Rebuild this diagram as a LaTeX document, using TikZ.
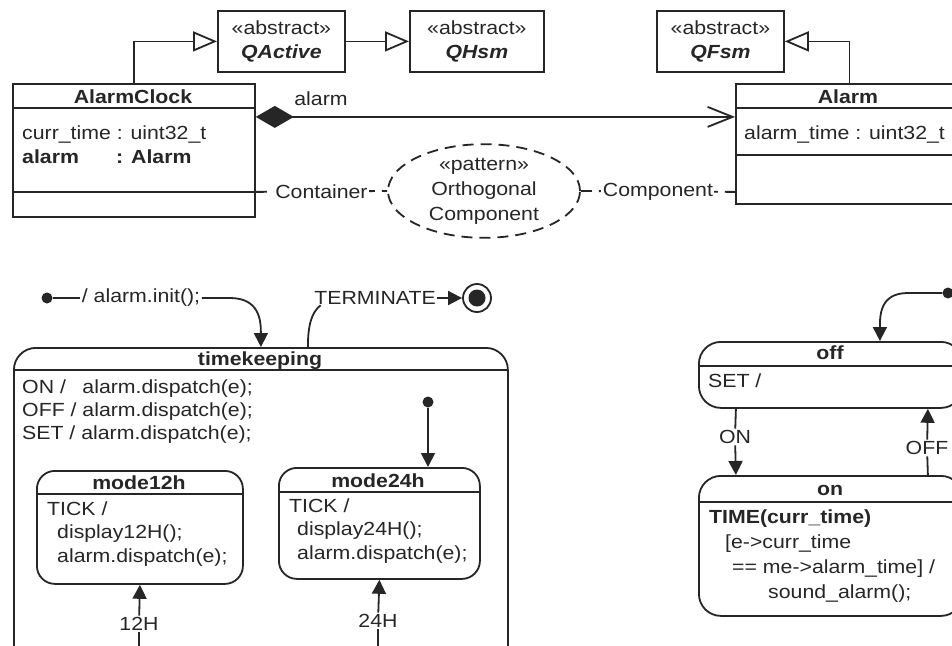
\documentclass[tikz,border=0pt]{standalone}
\usepackage{fontspec}
\setmainfont[FakeStretch=1.12]{Liberation Sans}
\usetikzlibrary{arrows.meta,shapes.geometric}
\newcommand\dfont{\fontsize{19}{24}\selectfont}
\begin{document}
\begin{tikzpicture}[x=1pt,y=-1pt,
  ln/.style={line width=1.8pt, draw=black!85},
  box/.style={ln, draw, anchor=north west, inner sep=0pt},
  sbox/.style={box, rounded corners=20pt},
  txt/.style={anchor=base west, inner sep=0pt, font=\dfont, text=black!85},
  ctxt/.style={anchor=base, inner sep=0pt, font=\dfont, text=black!85},
  lbl/.style={fill=white, inner sep=1.5pt, font=\dfont, text=black!85},
  gen/.style={ln, -{Triangle[open, length=24pt, width=20pt]}},
  trans/.style={ln, -{Triangle[length=14pt, width=14pt]}},
  dotn/.style={circle, fill=black!85, inner sep=0pt, minimum size=11pt},
  dsh/.style={dash pattern=on 11pt off 7pt}]
\useasboundingbox (0,0) rectangle (952,645);
\clip (0,0) rectangle (952,645);
\fill[white] (0,0) rectangle (952,645);

% ---- stereotype boxes
\node[box, minimum width=127pt, minimum height=61pt, align=center, font=\dfont, text=black!85] (qa) at (217,10) {«abstract»\\\textbf{\textit{QActive}}};
\node[box, minimum width=134pt, minimum height=61pt, align=center, font=\dfont, text=black!85] (qh) at (409,10) {«abstract»\\\textbf{\textit{QHsm}}};
\node[box, minimum width=127pt, minimum height=61pt, align=center, font=\dfont, text=black!85] (qf) at (656,10) {«abstract»\\\textbf{\textit{QFsm}}};

% ---- AlarmClock class
\node[box, minimum width=242pt, minimum height=133pt] (ac) at (12,83) {};
\draw[ln] (12,108) -- (254,108);
\draw[ln] (12,192) -- (254,192);
\node[ctxt, font=\dfont\bfseries] (acn) at (133,103) {AlarmClock};
\node[txt] (ac1) at (22,139) {curr\_time : uint32\_t};
\node[txt, font=\dfont\bfseries] (ac2) at (22,163) {\makebox[94pt][l]{alarm}: Alarm};

% ---- Alarm class
\node[box, minimum width=227pt, minimum height=120pt] (al) at (735,83) {};
\draw[ln] (735,108) -- (962,108);
\draw[ln] (735,155) -- (962,155);
\node[ctxt, font=\dfont\bfseries] (aln) at (848,103) {Alarm};
\node[txt] (al1) at (744,139) {alarm\_time : uint32\_t};

% ---- generalizations
\draw[gen] (ac.north) |- (qa.west);
\draw[gen] (qa.east) -- (qh.west);
\draw[gen] (al.north) |- (qf.east);

% ---- composition
\draw[ln, {Diamond[length=38pt,width=22pt]}-{Straight Barb[length=25pt,width=20pt]}]
  ([yshift=33.5pt]ac.east) -- ([yshift=27pt]al.west);
\node[ctxt] (alm) at (321,105) {alarm};

% ---- pattern
\node[ellipse, ln, draw, dsh, minimum width=192pt, minimum height=90pt, inner sep=0pt,
      align=center, font=\fontsize{19}{25}\selectfont, text=black!85] (pat) at (484,191)
      {«pattern»\\Orthogonal\\Component};
\draw[ln, dsh] ([yshift=-41.5pt]ac.east) -- node[lbl] (cont) {Container} (pat.west);
\draw[ln, dsh] (pat.east) -- node[lbl] (comp) {Component} ([yshift=-48pt]al.west);

% ---- timekeeping state machine
\node[sbox, rounded corners=22pt, minimum width=494pt, minimum height=353pt] (tk) at (13,347) {};
\draw[ln] (13,370) -- (507,370);
\node[ctxt, font=\dfont\bfseries] (tkn) at (260,365) {timekeeping};
\node[txt] (tk1) at (22,393) {\rlap{ON /}\hphantom{OFF /} alarm.dispatch(e);};
\node[txt] (tk2) at (22,416) {OFF / alarm.dispatch(e);};
\node[txt] (tk3) at (22,439) {SET / alarm.dispatch(e);};

\node[dotn] (i1) at (47,298) {};
\node[lbl] (ilbl) at (141,298) {/ alarm.init();};
\draw[ln] (i1) -- (ilbl);
\draw[trans] (ilbl.east) -- ++(28,0) .. controls +(30,0) and +(0,-26) .. (tk.north);

\node[lbl] (term) at (375,298) {TERMINATE};
\node[circle, ln, draw, minimum size=28pt, inner sep=0pt] (fin) at (477,298) {};
\fill[black!85] (fin.center) circle (8.5pt);
\draw[ln] ([xshift=47pt]tk.north) .. controls +(0,-22) and +(-9,7) .. ([xshift=8pt,yshift=1pt]term.south west);
\draw[trans] (term.east) -- (fin.west);

% mode12h
\node[sbox, rounded corners=18pt, minimum width=206pt, minimum height=113pt] (m12) at (36,470) {};
\draw[ln] (36,494) -- (242,494);
\node[ctxt, font=\dfont\bfseries] (m12n) at (139,489) {mode12h};
\node[txt] (m121) at (47,515) {TICK /};
\node[txt] (m122) at (57,538.5) {display12H();};
\node[txt] (m123) at (57,562) {alarm.dispatch(e);};

% mode24h
\node[sbox, rounded corners=18pt, minimum width=201pt, minimum height=111pt] (m24) at (278,467) {};
\draw[ln] (278,492) -- (479,492);
\node[ctxt, font=\dfont\bfseries] (m24n) at (378,487) {mode24h};
\node[txt] (m241) at (289,512) {TICK /};
\node[txt] (m242) at (297,535.5) {display24H();};
\node[txt] (m243) at (297,559) {alarm.dispatch(e);};

\node[dotn] (i2) at (428,402) {};
\draw[trans] (i2) -- (i2 |- m24.north);

\coordinate (b12) at (139,670);
\coordinate (b24) at (378,670);
\node[lbl] (l12) at (139,624) {12H};
\node[lbl] (l24) at (378,621) {24H};
\draw[ln] (b12) -- (l12);
\draw[trans] (l12) -- (m12.south);
\draw[ln] (b24) -- (l24);
\draw[trans] (l24) -- (m24.south);

% ---- alarm state machine
\node[sbox, rounded corners=22pt, minimum width=264pt, minimum height=66pt] (off) at (698,341) {};
\draw[ln] (698,366) -- (962,366);
\node[ctxt, font=\dfont\bfseries] (offn) at (830,359) {off};
\node[txt] (off1) at (708,387) {SET /};

\node[sbox, rounded corners=22pt, minimum width=264pt, minimum height=140pt] (on) at (698,475) {};
\draw[ln] (698,502) -- (962,502);
\node[ctxt, font=\dfont\bfseries] (onn) at (830,495) {on};
\node[txt, font=\dfont\bfseries] (on1) at (709,523) {TIME(curr\_time)};
\node[txt] (on2) at (725,548) {[e->curr\_time};
\node[txt] (on3) at (732,573) {== me->alarm\_time] /};
\node[txt] (on4) at (768,598) {sound\_alarm();};

\node[dotn] (i3) at (948,293) {};
\draw[trans] (i3) -- ++(-40,0) .. controls +(-28,0) and +(0,-26) .. ([xshift=49pt]off.north);

\node[lbl] (lon) at (735,437) {ON};
\draw[ln] ([xshift=-95pt]off.south) -- (lon);
\draw[trans] (lon) -- ([xshift=-95pt]on.north);
\node[lbl] (loff) at (927,448) {OFF};
\draw[ln] ([xshift=97pt]on.north) -- (loff);
\draw[trans] (loff) -- ([xshift=97pt]off.south);
\end{tikzpicture}
\end{document}
